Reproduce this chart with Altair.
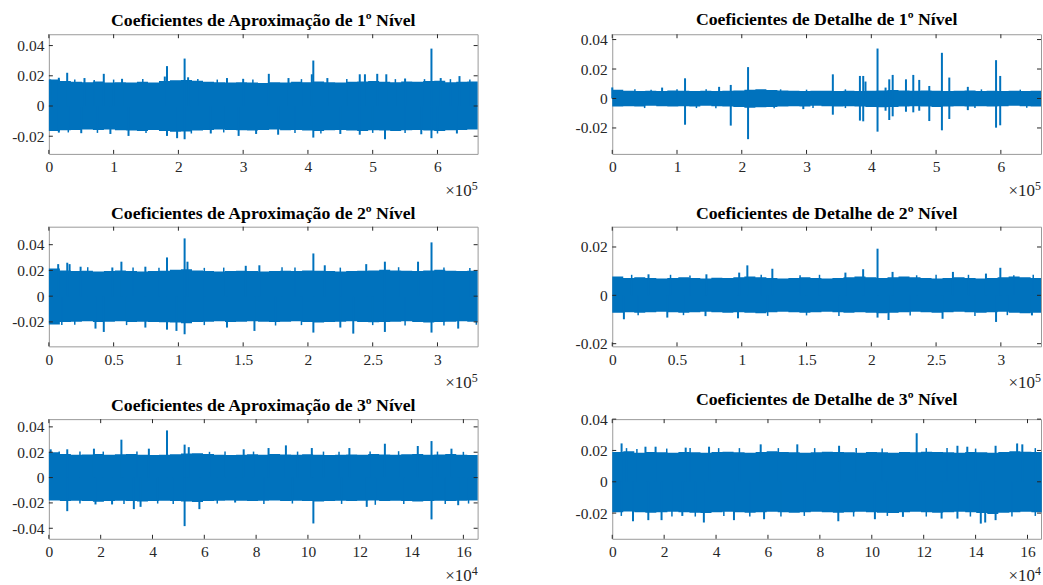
import altair as alt
import pandas as pd

BLUE = "#0072BD"
FONT = "Liberation Serif"
W, H = 430, 120

titles = [
    "Coeficientes de Aproximação de 1º Nível",
    "Coeficientes de Detalhe de 1º Nível",
    "Coeficientes de Aproximação de 2º Nível",
    "Coeficientes de Detalhe de 2º Nível",
    "Coeficientes de Aproximação de 3º Nível",
    "Coeficientes de Detalhe de 3º Nível",
]

# envelope sample positions (x in units of the axis multiplier)
x_lvl1 = [0, 0.17, 0.34, 0.51, 0.68, 0.85, 1.02, 1.19, 1.36, 1.53, 1.70, 1.87, 2.04, 2.21,
          2.38, 2.55, 2.72, 2.89, 3.06, 3.23, 3.40, 3.57, 3.74, 3.91, 4.08, 4.25, 4.42, 4.59,
          4.76, 4.93, 5.10, 5.27, 5.44, 5.61, 5.78, 5.95, 6.12, 6.29, 6.46, 6.62]
x_lvl2 = [0, 0.085, 0.17, 0.255, 0.34, 0.425, 0.51, 0.595, 0.68, 0.765, 0.85, 0.935, 1.02,
          1.105, 1.19, 1.275, 1.36, 1.445, 1.53, 1.615, 1.70, 1.785, 1.87, 1.955, 2.04, 2.125,
          2.21, 2.295, 2.38, 2.465, 2.55, 2.635, 2.72, 2.805, 2.89, 2.975, 3.06, 3.145, 3.23, 3.31]
x_lvl3 = [0, 0.425, 0.85, 1.275, 1.7, 2.125, 2.55, 2.975, 3.4, 3.825, 4.25, 4.675, 5.1, 5.525,
          5.95, 6.375, 6.8, 7.225, 7.65, 8.075, 8.5, 8.925, 9.35, 9.775, 10.2, 10.625, 11.05,
          11.475, 11.9, 12.325, 12.75, 13.175, 13.6, 14.025, 14.45, 14.875, 15.3, 15.725, 16.15, 16.55]

hi_A1 = [0.0175, 0.0165, 0.0160, 0.0158, 0.0162, 0.0155, 0.0158, 0.0156, 0.0160, 0.0155, 0.0165,
         0.0170, 0.0172, 0.0168, 0.0160, 0.0157, 0.0155, 0.0158, 0.0155, 0.0153, 0.0158, 0.0155,
         0.0160, 0.0158, 0.0162, 0.0158, 0.0155, 0.0160, 0.0162, 0.0165, 0.0160, 0.0158, 0.0162,
         0.0160, 0.0165, 0.0168, 0.0158, 0.0160, 0.0162, 0.0165]
lo_A1 = [-0.0165, -0.0160, -0.0158, -0.0155, -0.0158, -0.0155, -0.0160, -0.0162, -0.0165, -0.0158,
         -0.0165, -0.0170, -0.0168, -0.0162, -0.0158, -0.0155, -0.0158, -0.0160, -0.0162, -0.0158,
         -0.0155, -0.0160, -0.0158, -0.0162, -0.0165, -0.0160, -0.0158, -0.0162, -0.0165, -0.0160,
         -0.0162, -0.0165, -0.0160, -0.0158, -0.0162, -0.0165, -0.0160, -0.0158, -0.0155, -0.0158]
hi_D1 = [0.0060, 0.0052, 0.0050, 0.0052, 0.0050, 0.0055, 0.0052, 0.0050, 0.0053, 0.0050, 0.0052,
         0.0055, 0.0060, 0.0062, 0.0058, 0.0055, 0.0052, 0.0050, 0.0052, 0.0053, 0.0050, 0.0052,
         0.0050, 0.0052, 0.0055, 0.0058, 0.0055, 0.0052, 0.0055, 0.0053, 0.0050, 0.0052, 0.0055,
         0.0050, 0.0052, 0.0050, 0.0052, 0.0050, 0.0052, 0.0050]
lo_D1 = [-0.0055, -0.0052, -0.0055, -0.0050, -0.0052, -0.0055, -0.0052, -0.0055, -0.0050, -0.0052,
         -0.0055, -0.0058, -0.0062, -0.0060, -0.0058, -0.0055, -0.0052, -0.0055, -0.0050, -0.0052,
         -0.0055, -0.0052, -0.0055, -0.0058, -0.0060, -0.0058, -0.0055, -0.0052, -0.0055, -0.0058,
         -0.0055, -0.0052, -0.0055, -0.0052, -0.0055, -0.0052, -0.0050, -0.0052, -0.0055, -0.0052]
hi_A2 = [0.0215, 0.0200, 0.0195, 0.0198, 0.0192, 0.0195, 0.0200, 0.0195, 0.0192, 0.0195, 0.0198,
         0.0205, 0.0210, 0.0200, 0.0195, 0.0192, 0.0195, 0.0198, 0.0195, 0.0192, 0.0195, 0.0198,
         0.0195, 0.0200, 0.0198, 0.0195, 0.0192, 0.0195, 0.0198, 0.0200, 0.0205, 0.0200, 0.0198,
         0.0195, 0.0200, 0.0205, 0.0198, 0.0195, 0.0198, 0.0210]
lo_A2 = [-0.0220, -0.0200, -0.0198, -0.0195, -0.0200, -0.0198, -0.0195, -0.0200, -0.0198, -0.0200,
         -0.0202, -0.0205, -0.0210, -0.0200, -0.0198, -0.0195, -0.0200, -0.0198, -0.0195, -0.0198,
         -0.0200, -0.0198, -0.0195, -0.0200, -0.0205, -0.0200, -0.0198, -0.0195, -0.0200, -0.0202,
         -0.0200, -0.0198, -0.0195, -0.0200, -0.0205, -0.0200, -0.0198, -0.0195, -0.0198, -0.0195]
hi_D2 = [0.0078, 0.0072, 0.0075, 0.0072, 0.0070, 0.0072, 0.0075, 0.0072, 0.0070, 0.0073, 0.0072,
         0.0075, 0.0078, 0.0075, 0.0072, 0.0070, 0.0072, 0.0075, 0.0072, 0.0070, 0.0072, 0.0075,
         0.0078, 0.0075, 0.0072, 0.0075, 0.0078, 0.0075, 0.0072, 0.0070, 0.0072, 0.0075, 0.0072,
         0.0070, 0.0072, 0.0075, 0.0078, 0.0075, 0.0072, 0.0078]
lo_D2 = [-0.0072, -0.0070, -0.0072, -0.0070, -0.0068, -0.0070, -0.0072, -0.0070, -0.0068, -0.0070,
         -0.0072, -0.0070, -0.0072, -0.0074, -0.0070, -0.0068, -0.0070, -0.0072, -0.0070, -0.0068,
         -0.0070, -0.0072, -0.0070, -0.0072, -0.0074, -0.0072, -0.0070, -0.0068, -0.0070, -0.0072,
         -0.0070, -0.0068, -0.0070, -0.0072, -0.0070, -0.0068, -0.0072, -0.0074, -0.0072, -0.0075]
hi_A3 = [0.0200, 0.0185, 0.0180, 0.0182, 0.0185, 0.0180, 0.0183, 0.0185, 0.0180, 0.0178, 0.0180,
         0.0183, 0.0190, 0.0192, 0.0185, 0.0180, 0.0178, 0.0180, 0.0183, 0.0180, 0.0185, 0.0182,
         0.0180, 0.0183, 0.0180, 0.0178, 0.0180, 0.0182, 0.0180, 0.0185, 0.0182, 0.0180, 0.0183,
         0.0185, 0.0180, 0.0182, 0.0185, 0.0180, 0.0178, 0.0180]
lo_A3 = [-0.0180, -0.0185, -0.0182, -0.0185, -0.0190, -0.0185, -0.0182, -0.0185, -0.0188, -0.0185,
         -0.0182, -0.0185, -0.0188, -0.0192, -0.0185, -0.0182, -0.0180, -0.0182, -0.0185, -0.0182,
         -0.0180, -0.0185, -0.0182, -0.0185, -0.0188, -0.0185, -0.0182, -0.0185, -0.0182, -0.0180,
         -0.0185, -0.0182, -0.0185, -0.0188, -0.0185, -0.0182, -0.0185, -0.0182, -0.0180, -0.0185]
hi_D3 = [0.0190, 0.0195, 0.0185, 0.0190, 0.0188, 0.0185, 0.0190, 0.0188, 0.0185, 0.0190, 0.0192,
         0.0188, 0.0185, 0.0190, 0.0195, 0.0190, 0.0188, 0.0185, 0.0188, 0.0192, 0.0190, 0.0188,
         0.0185, 0.0190, 0.0188, 0.0185, 0.0190, 0.0188, 0.0192, 0.0190, 0.0188, 0.0185, 0.0190,
         0.0188, 0.0185, 0.0190, 0.0195, 0.0192, 0.0190, 0.0195]
lo_D3 = [-0.0195, -0.0190, -0.0195, -0.0198, -0.0195, -0.0192, -0.0195, -0.0198, -0.0200, -0.0195,
         -0.0192, -0.0195, -0.0198, -0.0195, -0.0192, -0.0195, -0.0198, -0.0195, -0.0192, -0.0195,
         -0.0198, -0.0195, -0.0192, -0.0195, -0.0198, -0.0200, -0.0195, -0.0192, -0.0195, -0.0198,
         -0.0195, -0.0192, -0.0195, -0.0200, -0.0205, -0.0198, -0.0195, -0.0192, -0.0195, -0.0190]

# isolated spikes (position, peak value)
spk_x_A1 = [0.02, 0.154, 0.283, 0.55, 0.848, 1.13, 1.79, 1.824, 2.096, 2.15, 2.75, 3.0, 3.396, 3.7,
            4.06, 4.083, 4.30, 4.80, 4.88, 5.07, 5.21, 5.5, 5.907, 6.05, 6.34,
            0.154, 0.5, 0.95, 1.23, 1.824, 1.98, 2.096, 2.5, 2.93, 3.2, 3.54, 4.083, 4.5, 4.80,
            5.19, 5.75, 5.907, 6.3]
spk_y_A1 = [0.0176, 0.0187, 0.0220, 0.0185, 0.0213, 0.0180, 0.0195, 0.0264, 0.0314, 0.0190, 0.0185,
            0.0180, 0.0213, 0.0185, 0.0210, 0.0301, 0.0185, 0.0210, 0.0210, 0.0213, 0.0210, 0.0182,
            0.0380, 0.0185, 0.0198,
            -0.0176, -0.0180, -0.0185, -0.0198, -0.0198, -0.0213, -0.0220, -0.0182, -0.0198,
            -0.0185, -0.0190, -0.0209, -0.0185, -0.0190, -0.0220, -0.0187, -0.0213, -0.0182]
spk_x_D1 = [0.0, 0.77, 1.124, 1.65, 1.83, 2.097, 3.406, 3.824, 3.875, 3.91, 4.096, 4.22, 4.277, 4.33,
            4.535, 4.648, 4.74, 4.895, 5.09, 5.204, 5.49, 5.926, 5.99,
            1.124, 1.83, 2.097, 2.95, 3.406, 3.824, 3.875, 4.096, 4.22, 4.277, 4.33, 4.535, 4.648,
            4.74, 4.895, 5.09, 5.204, 5.49, 5.926, 5.99]
spk_y_D1 = [0.0075, 0.0074, 0.0137, 0.0079, 0.0092, 0.0213, 0.0164, 0.0153, 0.0153, 0.0115, 0.0339,
            0.0074, 0.0130, 0.0160, 0.0130, 0.0160, 0.0126, 0.0085, 0.0310, 0.0142, 0.0079, 0.0260,
            0.0153,
            -0.0178, -0.0184, -0.0276, -0.0072, -0.0110, -0.0150, -0.0155, -0.0225, -0.0083,
            -0.0146, -0.0121, -0.0090, -0.0094, -0.0083, -0.0153, -0.0216, -0.0139, -0.0079,
            -0.0198, -0.0182]
spk_x_A2 = [0.072, 0.142, 0.16, 0.245, 0.49, 0.56, 0.745, 0.912, 1.048, 1.07, 1.52, 1.625, 2.042,
            2.13, 2.45, 2.594, 2.85, 2.954,
            0.36, 0.424, 0.745, 0.912, 0.985, 1.048, 1.375, 1.587, 2.042, 2.25, 2.35, 2.594,
            2.954, 3.16]
spk_y_A2 = [0.0249, 0.0260, 0.0249, 0.0229, 0.0223, 0.0268, 0.0229, 0.0301, 0.0449, 0.0268, 0.0236,
            0.0240, 0.0332, 0.0240, 0.0249, 0.0268, 0.0268, 0.0418,
            -0.0252, -0.0278, -0.0244, -0.0260, -0.0270, -0.0296, -0.0244, -0.0270, -0.0283,
            -0.0244, -0.0291, -0.0278, -0.0283, -0.0252]
spk_x_D2 = [0.28, 0.727, 0.98, 1.043, 1.236, 1.8, 1.937, 2.048, 2.164, 2.63, 2.885, 2.996,
            0.09, 0.425, 0.72, 0.971, 2.048, 2.133, 2.55, 2.963, 3.24]
spk_y_D2 = [0.0087, 0.0087, 0.0094, 0.0124, 0.0110, 0.0094, 0.0108, 0.0193, 0.0097, 0.0097, 0.0090,
            0.0114,
            -0.0099, -0.0092, -0.0086, -0.0095, -0.0092, -0.0102, -0.0097, -0.0110, -0.0083]
spk_x_A3 = [0.07, 0.71, 1.74, 2.80, 3.86, 4.56, 5.24, 5.4, 7.52, 8.48, 9.15, 10.15, 11.6, 12.97,
            14.24, 14.77, 15.54,
            0.71, 1.8, 2.44, 3.28, 3.54, 5.24, 5.81, 7.19, 10.21, 12.27, 14.77, 15.8]
spk_y_A3 = [0.0223, 0.0223, 0.0228, 0.0299, 0.0228, 0.0372, 0.0260, 0.0240, 0.0223, 0.0233, 0.0254,
            0.0233, 0.0233, 0.0267, 0.0249, 0.0288, 0.0228,
            -0.0265, -0.0212, -0.0212, -0.0249, -0.0231, -0.0383, -0.0249, -0.0197, -0.0362,
            -0.0231, -0.0330, -0.0218]
spk_x_D3 = [0.07, 0.36, 1.28, 1.67, 2.83, 3.73, 5.72, 7.13, 8.74, 11.73, 13.3, 13.68, 14.77, 15.6,
            15.8,
            0.8, 1.39, 1.9, 2.7, 3.53, 4.69, 5.85, 8.71, 10.12, 11.2, 12.69, 13.3, 14.2, 14.37, 14.77]
spk_y_D3 = [0.0190, 0.0245, 0.0224, 0.0224, 0.0218, 0.0224, 0.0239, 0.0239, 0.0230, 0.0310, 0.0230,
            0.0224, 0.0230, 0.0245, 0.0239,
            -0.0252, -0.0245, -0.0245, -0.0218, -0.0260, -0.0245, -0.0239, -0.0252, -0.0239,
            -0.0224, -0.0235, -0.0235, -0.0267, -0.0260, -0.0245]

# small excursions just past the band edge (position, value)
sm_x_A1 = [0.4, 0.7, 1.0, 1.45, 2.3, 2.6, 3.15, 3.9, 4.6, 5.35, 5.8, 6.2, 6.5,
           0.3, 0.75, 1.5, 2.2, 2.7, 3.8, 4.2, 5.0, 5.5, 6.0]
sm_y_A1 = [0.0175, 0.0172, 0.0175, 0.0178, 0.0178, 0.0175, 0.0175, 0.0178, 0.0178, 0.0178, 0.0178,
           0.0178, 0.0175,
           -0.0175, -0.0178, -0.0178, -0.0182, -0.0175, -0.0178, -0.0182, -0.0178, -0.0178, -0.0182]
sm_x_D1 = [0.35, 0.6, 1.0, 1.45, 2.6, 3.0, 3.6, 5.7, 6.3,
           0.5, 1.3, 1.6, 2.5, 3.1, 3.6, 5.6, 6.4]
sm_y_D1 = [0.0062, 0.0060, 0.0062, 0.0062, 0.0062, 0.0060, 0.0062, 0.0062, 0.0060,
           -0.0065, -0.0065, -0.0066, -0.0066, -0.0065, -0.0065, -0.0065, -0.0062]
sm_x_A2 = [0.3, 0.65, 0.85, 1.2, 1.35, 1.8, 1.9, 2.25, 2.7, 3.05, 3.25,
           0.1, 0.2, 0.6, 1.2, 1.75, 1.95, 2.5, 2.75, 3.05, 3.3]
sm_y_A2 = [0.0225, 0.0222, 0.0220, 0.0220, 0.0222, 0.0225, 0.0222, 0.0222, 0.0225, 0.0222, 0.0218,
           -0.0225, -0.0222, -0.0225, -0.0225, -0.0228, -0.0225, -0.0225, -0.0228, -0.0228, -0.0222]
sm_x_D2 = [0.15, 0.45, 0.6, 1.15, 1.45, 1.6, 2.35, 2.5, 2.75, 3.1, 3.25,
           0.2, 0.55, 1.2, 1.5, 1.75, 2.3, 2.8, 3.05]
sm_y_D2 = [0.0085, 0.0085, 0.0082, 0.0085, 0.0083, 0.0085, 0.0083, 0.0085, 0.0085, 0.0083, 0.0085,
           -0.0082, -0.0082, -0.0085, -0.0083, -0.0085, -0.0083, -0.0085, -0.0082]
sm_x_A3 = [0.4, 1.2, 2.1, 3.4, 6.2, 6.8, 7.9, 9.6, 10.6, 11.2, 12.4, 13.5, 15.0, 16.0,
           1.2, 2.9, 4.2, 4.8, 6.5, 8.3, 9.4, 11.3, 12.6, 13.7, 15.3, 16.2]
sm_y_A3 = [0.0205, 0.0205, 0.0205, 0.0205, 0.0203, 0.0205, 0.0205, 0.0205, 0.0205, 0.0203, 0.0205,
           0.0208, 0.0205, 0.0203,
           -0.0205, -0.0208, -0.0205, -0.0208, -0.0205, -0.0208, -0.0205, -0.0208, -0.0215,
           -0.0208, -0.0208, -0.0205]
sm_x_D3 = [0.55, 0.95, 2.1, 3.0, 4.1, 4.9, 6.4, 7.8, 9.4, 10.4, 12.1, 12.9, 14.0, 16.3,
           0.35, 2.3, 3.2, 4.3, 5.3, 6.5, 7.4, 9.3, 10.6, 12.1, 13.8, 15.4, 16.3]
sm_y_D3 = [0.0215, 0.0210, 0.0212, 0.0215, 0.0215, 0.0215, 0.0215, 0.0215, 0.0215, 0.0212, 0.0215,
           0.0215, 0.0212, 0.0215,
           -0.0218, -0.0222, -0.0222, -0.0218, -0.0222, -0.0222, -0.0218, -0.0222, -0.0218,
           -0.0222, -0.0222, -0.0222, -0.0218]

x_domains = [[0, 6.62], [0, 6.62], [0, 3.31], [0, 3.31], [0, 16.55], [0, 16.52]]
y_domains = [[-0.0317, 0.0475], [-0.0376, 0.0436], [-0.039, 0.054], [-0.0211, 0.0284],
             [-0.0483, 0.0461], [-0.0364, 0.0400]]
x_ticks = [[0, 1, 2, 3, 4, 5, 6], [0, 1, 2, 3, 4, 5, 6],
           [0, 0.5, 1, 1.5, 2, 2.5, 3], [0, 0.5, 1, 1.5, 2, 2.5, 3],
           [0, 2, 4, 6, 8, 10, 12, 14, 16], [0, 2, 4, 6, 8, 10, 12, 14, 16]]
y_ticks = [[-0.02, 0, 0.02, 0.04], [-0.02, 0, 0.02, 0.04], [-0.02, 0, 0.02, 0.04],
           [-0.02, 0, 0.02], [-0.04, -0.02, 0, 0.02, 0.04], [-0.02, 0, 0.02, 0.04]]
exponents = ["5", "5", "5", "5", "4", "4"]

bands = [(x_lvl1, hi_A1, lo_A1), (x_lvl1, hi_D1, lo_D1), (x_lvl2, hi_A2, lo_A2),
         (x_lvl2, hi_D2, lo_D2), (x_lvl3, hi_A3, lo_A3), (x_lvl3, hi_D3, lo_D3)]
spikes = [(spk_x_A1, spk_y_A1), (spk_x_D1, spk_y_D1), (spk_x_A2, spk_y_A2),
          (spk_x_D2, spk_y_D2), (spk_x_A3, spk_y_A3), (spk_x_D3, spk_y_D3)]
smalls = [(sm_x_A1, sm_y_A1), (sm_x_D1, sm_y_D1), (sm_x_A2, sm_y_A2),
          (sm_x_D2, sm_y_D2), (sm_x_A3, sm_y_A3), (sm_x_D3, sm_y_D3)]

TXT = "#262626"


def panel(i):
    bx, bh, bl = bands[i]
    sx, sy = spikes[i]
    mx, my = smalls[i]
    xs = alt.Scale(domain=x_domains[i], nice=False, zero=False)
    ys = alt.Scale(domain=y_domains[i], nice=False, zero=False)
    xax = alt.Axis(values=x_ticks[i], ticks=False, domain=False, grid=False, title=None,
                   labelExpr="'' + datum.value", labelPadding=6, labelFlush=False,
                   labelFont=FONT, labelFontSize=15.5, labelColor=TXT)
    yax = alt.Axis(values=y_ticks[i], ticks=False, domain=False, grid=False, title=None,
                   labelExpr="'' + datum.value", labelPadding=5,
                   labelFont=FONT, labelFontSize=15.5, labelColor=TXT)

    def X(f):
        return alt.X(f, type="quantitative", scale=xs, axis=xax)

    def Y(f):
        return alt.Y(f, type="quantitative", scale=ys, axis=yax)

    band = alt.Chart(pd.DataFrame({"x": bx, "hi": bh, "lo": bl})).mark_area(
        interpolate="step-after", color=BLUE, opacity=1
    ).encode(x=X("x"), y=Y("hi"), y2="lo")

    spk = alt.Chart(pd.DataFrame({"x": sx, "y": sy})).mark_rule(
        color=BLUE, strokeWidth=2
    ).encode(x=X("x"), y=Y("y"), y2=alt.datum(0))

    sml = alt.Chart(pd.DataFrame({"x": mx, "y": my})).mark_rule(
        color=BLUE, strokeWidth=1.5
    ).encode(x=X("x"), y=Y("y"), y2=alt.datum(0))

    xt = pd.DataFrame({"x": x_ticks[i]})
    yt = pd.DataFrame({"y": y_ticks[i]})
    tk = dict(color=TXT, strokeWidth=1)
    tb = alt.Chart(xt).mark_rule(**tk).encode(x=X("x"), y=alt.value(H), y2=alt.value(H - 4))
    tt = alt.Chart(xt).mark_rule(**tk).encode(x=X("x"), y=alt.value(0), y2=alt.value(4))
    tl = alt.Chart(yt).mark_rule(**tk).encode(y=Y("y"), x=alt.value(0), x2=alt.value(4))
    tr = alt.Chart(yt).mark_rule(**tk).encode(y=Y("y"), x=alt.value(W), x2=alt.value(W - 4))

    ex = pd.DataFrame({"x": [x_domains[i][1]], "t": ["×10"], "e": [exponents[i]]})
    e1 = alt.Chart(ex).mark_text(align="right", baseline="alphabetic", font=FONT,
                                 fontSize=17, color=TXT, dx=-6).encode(
        x=X("x"), y=alt.value(H + 42), text="t:N")
    e2 = alt.Chart(ex).mark_text(align="right", baseline="alphabetic", font=FONT,
                                 fontSize=12, color=TXT).encode(
        x=X("x"), y=alt.value(H + 36), text="e:N")

    return alt.layer(band, spk, sml, tb, tt, tl, tr, e1, e2).properties(
        width=W, height=H,
        title=alt.TitleParams(titles[i], font=FONT, fontSize=17.8, fontWeight="bold",
                              color="black", offset=3.5, anchor="middle"),
    )


chart = alt.concat(
    *[panel(i) for i in range(6)], columns=2,
    spacing={"row": 73, "column": 135}, bounds="flush",
).properties(
    padding={"left": 11, "top": 9.5, "right": 0, "bottom": 0},
    background="white",
).configure_view(
    stroke="#9a9a9a", strokeWidth=1
).configure_axis(
    labelFont=FONT, labelFontSize=15.5, labelColor=TXT
)

chart.save("out.html", embed_options={"renderer": "svg", "actions": False})
